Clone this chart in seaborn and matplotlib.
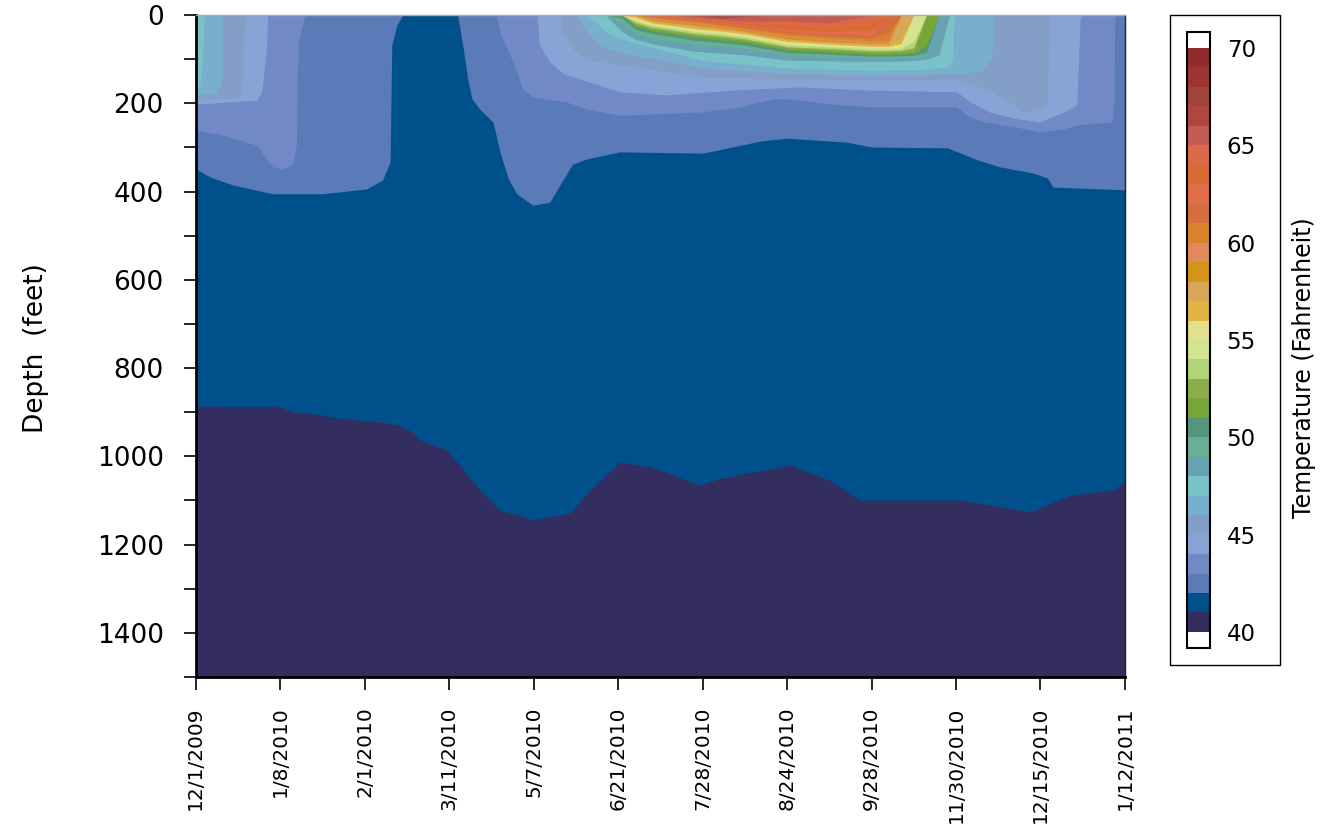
import matplotlib

matplotlib.use("Agg")

import matplotlib.pyplot as plt
import seaborn as sns
from matplotlib.cm import ScalarMappable
from matplotlib.colors import BoundaryNorm, ListedColormap
from matplotlib.patches import Rectangle
from matplotlib.ticker import MultipleLocator


# sample dates (evenly spaced on the x axis, one per profile)
sample_dates = [
    "12/1/2009", "1/8/2010", "2/1/2010", "3/11/2010", "5/7/2010", "6/21/2010",
    "7/28/2010", "8/24/2010", "9/28/2010", "11/30/2010", "12/15/2010", "1/12/2011",
]

# one colour per 1 degree band, 40-41 up to 69-70
band_colors = [
    "#342d5f", "#00508c", "#5b7bb8", "#7189c7", "#88a4d6",
    "#839fc8", "#78afcc", "#78c2c8", "#66a2b2", "#66b096",
    "#53967c", "#76a637", "#8cad4a", "#b0d578", "#d4e38f",
    "#e4e08c", "#e0b440", "#d8a85a", "#d49418", "#e0895a",
    "#d9822b", "#d46e3e", "#e26d48", "#d96a32", "#de6a45",
    "#c45c53", "#b0463d", "#a0463d", "#9e3533", "#922b2e",
]
temperature_levels = list(range(40, 71))

# depth (feet) of each isotherm, x in sample-date units
iso41_x = [0, 1.0, 1.15, 1.47, 1.67, 2.18, 2.38, 2.57, 2.65, 2.81, 2.97, 3.07, 3.36, 3.6,
           4.0, 4.43, 4.67, 5.02, 5.38, 5.97, 6.21, 7.03, 7.5, 7.86, 9.05, 9.88, 10.35,
           10.88, 11]
iso41_depth = [886, 888, 899, 906, 913, 922, 929, 945, 963, 974, 986, 1008, 1076, 1122,
               1144, 1128, 1076, 1013, 1024, 1065, 1050, 1020, 1054, 1099, 1099, 1126, 1088,
               1076, 1054]

iso42_x = [0, 0.17, 0.44, 0.91, 1.5, 2.02, 2.21, 2.3, 2.32, 2.38, 2.45, 3.1, 3.16, 3.22,
           3.27, 3.36, 3.52, 3.6, 3.7, 3.8, 3.99, 4.19, 4.31, 4.46, 4.63, 5.02, 6.0, 6.7,
           7.0, 7.7, 8.0, 8.9, 9.25, 9.52, 9.91, 10.08, 10.15, 11]
iso42_depth = [349, 367, 385, 405, 405, 394, 374, 333, 68, 23, 0, 0, 68, 146,
               190, 213, 243, 310, 371, 405, 431, 424, 385, 338, 326, 310, 313, 285,
               279, 288, 299, 301, 328, 344, 358, 369, 390, 396]

iso43_x = [0, 0.32, 0.72, 0.84, 0.91, 1.03, 1.15, 1.19, 1.21, 1.29, 3.56, 3.6, 3.72, 3.8,
           3.87, 3.99, 4.39, 4.63, 5.02, 5.97, 6.44, 6.83, 7.0, 7.54, 7.98, 9.01, 9.13,
           9.32, 9.72, 9.99, 10.27, 10.47, 10.85, 10.87, 10.88, 11]
iso43_depth = [261, 272, 295, 326, 344, 349, 338, 295, 68, 0, 0, 39, 91, 129,
               168, 186, 197, 213, 227, 220, 208, 190, 190, 202, 208, 208, 227,
               242, 254, 265, 258, 248, 242, 200, 0, 0]

iso44_x = [0, 0.72, 0.78, 0.84, 0.85, 4.04, 4.07, 4.19, 4.35, 4.55, 5.02, 5.57, 6.36, 7.15,
           7.98, 9.01, 9.17, 9.4, 9.72, 9.99, 10.27, 10.43, 10.47, 10.5, 11]
iso44_depth = [202, 193, 174, 68, 0, 0, 68, 106, 133, 145, 174, 181, 170, 163,
               170, 174, 197, 220, 235, 242, 220, 204, 9, 0, 0]

iso45_x = [0, 0.52, 0.56, 0.58, 4.31, 4.35, 4.46, 4.63, 4.78, 5.02, 5.97, 6.8, 7.98, 9.01,
           9.44, 9.8, 9.99, 10.08, 10.11, 10.12, 11]
iso45_depth = [190, 188, 145, 0, 0, 39, 77, 100, 106, 113, 140, 145, 147, 147,
               174, 220, 215, 197, 9, 0, 0]

iso46_x = [0, 0.25, 0.31, 0.32, 4.51, 4.63, 4.78, 5.02, 6.0, 7.0, 8.0, 8.9, 9.3, 9.42,
           9.45, 11]
iso46_depth = [181, 179, 145, 0, 0, 39, 68, 84, 120, 132, 138, 134, 128, 100, 0, 0]

iso47_x = [0, 0.05, 0.08, 0.1, 4.63, 4.87, 5.02, 6.0, 7.0, 8.0, 8.5, 8.9, 8.96, 8.98, 11]
iso47_depth = [170, 160, 100, 0, 0, 39, 54, 103, 120, 125, 124, 118, 100, 0, 0]

# summer warm layer, all warm isotherms share these columns
summer_x = [4.85, 5.05, 5.2, 5.4, 5.6, 5.9, 6.25, 6.5, 7.0, 7.5, 8.0, 8.2, 8.35, 8.5, 8.65,
            8.8, 8.92]
iso48_depth = [0, 38, 55, 65, 72, 82, 87, 90, 102, 104, 105, 105, 104, 103, 100, 90, 0]
iso49_depth = [0, 20, 42, 52, 58, 67, 72, 76, 92, 95, 98, 98, 97, 96, 93, 0, 0]
iso50_depth = [0, 8, 32, 42, 48, 57, 63, 68, 85, 89, 93, 93, 92, 91, 85, 0, 0]
iso51_depth = [0, 0, 25, 36, 41, 50, 57, 62, 79, 84, 89, 89, 88, 87, 70, 0, 0]
iso52_depth = [0, 0, 21, 32, 37, 46, 52, 58, 75, 80, 85, 85, 84, 82, 0, 0, 0]
iso53_depth = [0, 0, 17, 28, 33, 42, 48, 54, 72, 76, 81, 81, 80, 74, 0, 0, 0]
iso54_depth = [0, 0, 13, 24, 29, 38, 44, 50, 68, 72, 77, 77, 76, 60, 0, 0, 0]
iso55_depth = [0, 0, 9, 21, 26, 34, 40, 46, 64, 69, 74, 74, 72, 0, 0, 0, 0]
iso56_depth = [0, 0, 5, 18, 23, 31, 37, 43, 60, 66, 71, 71, 65, 0, 0, 0, 0]
iso57_depth = [0, 0, 0, 15, 20, 27, 34, 40, 57, 63, 68, 68, 55, 0, 0, 0, 0]
iso58_depth = [0, 0, 0, 12, 17, 23, 31, 37, 54, 60, 65, 65, 0, 0, 0, 0, 0]
iso59_depth = [0, 0, 0, 9, 14, 19, 28, 34, 50, 57, 62, 62, 0, 0, 0, 0, 0]
iso60_depth = [0, 0, 0, 6, 11, 16, 25, 31, 46, 53, 58, 58, 0, 0, 0, 0, 0]
iso61_depth = [0, 0, 0, 3, 9, 14, 22, 28, 41, 48, 52, 40, 0, 0, 0, 0, 0]
iso62_depth = [0, 0, 0, 0, 6, 12, 20, 25, 37, 43, 45, 0, 0, 0, 0, 0, 0]
iso63_depth = [0, 0, 0, 0, 3, 10, 17, 22, 32, 37, 35, 0, 0, 0, 0, 0, 0]
iso64_depth = [0, 0, 0, 0, 0, 8, 14, 19, 24, 28, 20, 0, 0, 0, 0, 0, 0]
iso65_depth = [0, 0, 0, 0, 0, 5, 11, 14, 14, 18, 0, 0, 0, 0, 0, 0, 0]
iso66_depth = [0, 0, 0, 0, 0, 2, 7, 3, 0, 0, 0, 0, 0, 0, 0, 0, 0]
iso67_depth = [0, 0, 0, 0, 0, 0, 4, 0, 0, 0, 0, 0, 0, 0, 0, 0, 0]
iso68_depth = [0, 0, 0, 0, 0, 0, 1, 0, 0, 0, 0, 0, 0, 0, 0, 0, 0]


sns.set_theme(style="ticks")
plt.rcParams["font.family"] = ["DejaVu Sans"]
plt.rcParams["text.color"] = "black"
plt.rcParams["xtick.color"] = "black"
plt.rcParams["ytick.color"] = "black"

cool_isotherms = [
    (41, iso41_x, iso41_depth),
    (42, iso42_x, iso42_depth),
    (43, iso43_x, iso43_depth),
    (44, iso44_x, iso44_depth),
    (45, iso45_x, iso45_depth),
    (46, iso46_x, iso46_depth),
    (47, iso47_x, iso47_depth),
]

warm_depths = [
    iso48_depth, iso49_depth, iso50_depth, iso51_depth, iso52_depth, iso53_depth,
    iso54_depth, iso55_depth, iso56_depth, iso57_depth, iso58_depth, iso59_depth,
    iso60_depth, iso61_depth, iso62_depth, iso63_depth, iso64_depth, iso65_depth,
    iso66_depth, iso67_depth, iso68_depth,
]

palette = sns.color_palette(band_colors)

figure = plt.figure(figsize=(13.23, 8.35), dpi=100)

axis = figure.add_axes([0.148, 0.1892, 0.7023, 0.7928])
colorbar_axis = figure.add_axes([0.8972, 0.2240, 0.0174, 0.7377])

# coldest band is the background, warmer bands painted on top
axis.set_facecolor(palette[0])

for temperature, x_values, depths in cool_isotherms:
    axis.fill_between(
        x_values,
        0,
        depths,
        color=palette[temperature - 40],
        linewidth=0,
    )

for offset, depths in enumerate(warm_depths):
    temperature = 48 + offset
    axis.fill_between(
        summer_x,
        0,
        depths,
        color=palette[temperature - 40],
        linewidth=0,
    )

axis.set_xlim(0, len(sample_dates) - 1)
axis.set_ylim(1500, 0)

axis.set_xticks(range(len(sample_dates)))
axis.set_xticklabels(sample_dates, rotation=90, fontsize=14.5)

axis.yaxis.set_major_locator(MultipleLocator(200))
axis.yaxis.set_minor_locator(MultipleLocator(100))
axis.tick_params(axis="y", which="major", labelsize=19, length=9, width=1.2, pad=14)
axis.tick_params(axis="y", which="minor", length=9, width=1.2)
axis.tick_params(axis="x", length=9, width=1.2, pad=12)

for side in ["left", "bottom"]:
    axis.spines[side].set_color("black")
    axis.spines[side].set_linewidth(2)

axis.spines["top"].set_color("#a8a8a8")
axis.spines["top"].set_linewidth(1)
axis.spines["right"].set_color("#222222")
axis.spines["right"].set_linewidth(1)
axis.grid(False)

figure.text(
    0.027,
    0.583,
    "Depth  (feet)",
    rotation=90,
    ha="center",
    va="center",
    fontsize=19,
)

# colour bar with white end boxes
band_cmap = ListedColormap(band_colors)
band_cmap.set_under("white")
band_cmap.set_over("white")
band_norm = BoundaryNorm(temperature_levels, band_cmap.N)

colorbar = figure.colorbar(
    ScalarMappable(norm=band_norm, cmap=band_cmap),
    cax=colorbar_axis,
    extend="both",
    extendrect=True,
    extendfrac=0.0274,
    ticks=list(range(40, 71, 5)),
)
colorbar.ax.minorticks_off()
colorbar.outline.set_edgecolor("black")
colorbar.outline.set_linewidth(1.5)
colorbar.ax.tick_params(
    direction="in",
    length=16.5,
    width=1.3,
    color="black",
    labelsize=16.5,
    pad=12,
)

figure.text(
    0.986,
    0.56,
    "Temperature (Fahrenheit)",
    rotation=90,
    ha="center",
    va="center",
    fontsize=17,
)

figure.add_artist(
    Rectangle(
        (0.8843, 0.2036),
        0.0831,
        0.7784,
        transform=figure.transFigure,
        fill=False,
        edgecolor="black",
        linewidth=1,
    )
)

figure.savefig("out.png", dpi=100)
plt.close(figure)
